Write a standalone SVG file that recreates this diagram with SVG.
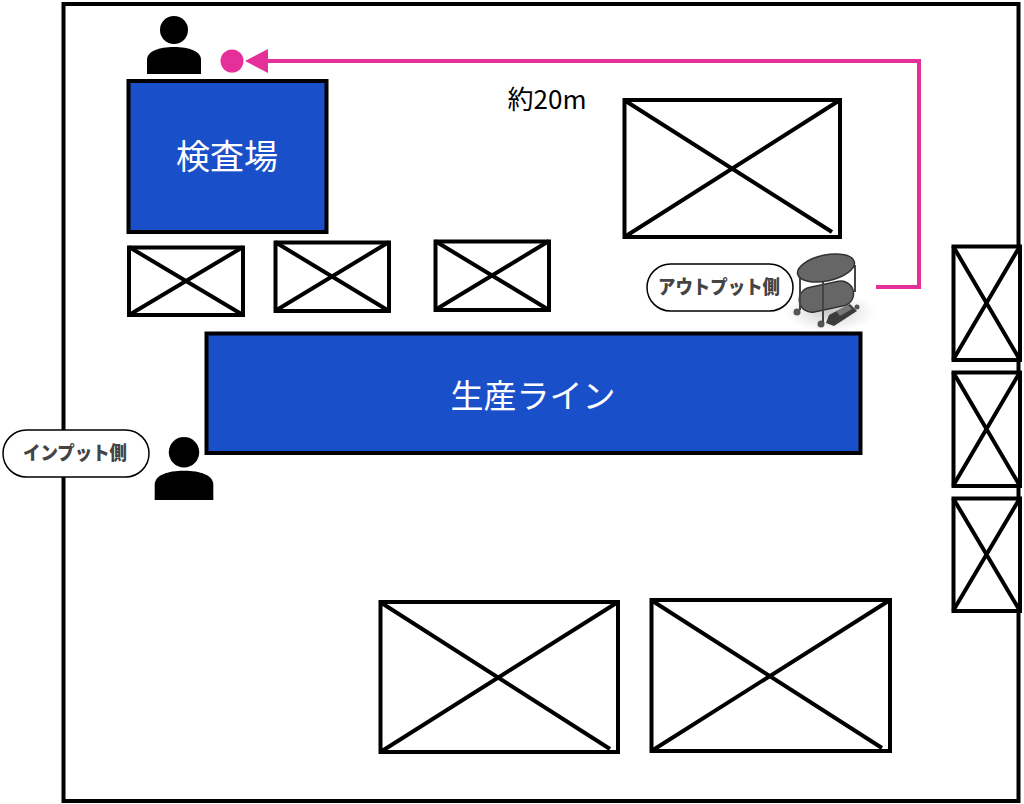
<svg xmlns="http://www.w3.org/2000/svg" width="1024" height="804" viewBox="0 0 1024 804">
<style>
.x rect{fill:#fff;stroke:#000;stroke-width:4}
.x path{fill:none;stroke:#000;stroke-width:4}
.b rect{fill:#1a4fca;stroke:#000;stroke-width:4}
.b text{fill:#fff;text-anchor:middle;font-family:"Noto Sans CJK JP","Noto Sans",sans-serif}
.p text{fill:#444;font-weight:900;font-size:19px;text-anchor:middle;font-family:"Noto Sans CJK JP",sans-serif}
.p rect{fill:#fff;stroke:#000;stroke-width:1.500}
.c{fill:#666;stroke:#333;stroke-width:1.500}
.l{fill:none;stroke:#444;stroke-width:2}
</style>
<defs>
<radialGradient id="sh"><stop offset="0" stop-color="#999" stop-opacity=".55"/><stop offset="1" stop-color="#bbb" stop-opacity="0"/></radialGradient>
<symbol id="person" viewBox="0 0 54 58" overflow="visible"><circle cx="27" cy="14" r="14"/><path d="M0 58V44C0 35 12 31 27 31S54 35 54 44V58Z"/></symbol>
</defs>
<rect id="floor" x="63.500" y="4" width="955" height="797" fill="#fff" stroke="#000" stroke-width="4"/>
<g id="box1" class="x"><rect x="624.500" y="100" width="215.500" height="137"/><path d="M624 100L832 232M626 236L840 100"/></g>
<g id="box2" class="x"><rect x="129" y="247.500" width="114" height="67.500"/><path d="M129 247L243 315M129 315L243 247"/></g>
<g id="box3" class="x"><rect x="275.500" y="242.500" width="113.500" height="68.500"/><path d="M275 242L389 311M275 311L389 242"/></g>
<g id="box4" class="x"><rect x="435.500" y="241.500" width="113.500" height="68.500"/><path d="M435 241L549 310M435 310L549 241"/></g>
<g id="box5" class="x"><rect x="953.500" y="246.500" width="66.500" height="113.500"/><path d="M953 246L1020 360M953 360L1020 246"/></g>
<g id="box6" class="x"><rect x="953.500" y="372.500" width="66.500" height="113.500"/><path d="M953 372L1020 486M953 486L1020 372"/></g>
<g id="box7" class="x"><rect x="953.500" y="498.500" width="66.500" height="112.500"/><path d="M953 498L1020 611M953 611L1020 498"/></g>
<g id="box8" class="x"><rect x="380.500" y="602" width="237.500" height="150"/><path d="M380 602L610 749M382 751L618 602"/></g>
<g id="box9" class="x"><rect x="651.500" y="600" width="238.500" height="151"/><path d="M651 600L882 748M653 750L890 600"/></g>
<g id="inspection" class="b"><rect x="128.500" y="81" width="198" height="151"/><text x="227" y="169" font-size="34">検査場</text></g>
<g id="line" class="b"><rect x="206.500" y="333.500" width="654" height="119.500"/><text x="533" y="408" font-size="33">生産ライン</text></g>
<g id="connectors"><path d="M876 287H919V61H266" fill="none" stroke="#e5309a" stroke-width="4"/><path d="M245 61L268 49V73Z" fill="#e5309a"/></g>
<circle id="dot" cx="232" cy="61" r="11.500" fill="#e5309a"/>
<use id="person1" href="#person" x="147" y="16" width="54" height="58"/>
<use id="person2" href="#person" x="154" y="437" width="60" height="63"/>
<text id="distance" x="547" y="109" font-size="26" text-anchor="middle" font-family="'Noto Sans CJK JP',sans-serif">約20m</text>
<g id="output" class="p"><rect x="647" y="264" width="146" height="47" rx="23.500"/><text x="719" y="294" textLength="122" lengthAdjust="spacingAndGlyphs">アウトプット側</text></g>
<g id="input" class="p"><rect x="3" y="430" width="146" height="47" rx="23.500"/><text x="75" y="460" textLength="104" lengthAdjust="spacingAndGlyphs">インプット側</text></g>
<g id="robot">
<ellipse cx="830" cy="312" rx="46" ry="20" fill="url(#sh)"/>
<path class="l" d="M855 265V292"/>
<rect class="c" x="799" y="284" width="55" height="25" rx="12.500" ry="12.500" transform="rotate(-12 827 297)"/>
<path d="M829 315L850 304L857 311L834 326L826 323Z" fill="#3c3c3c"/>
<path d="M836 311L848 305L852 309L840 316Z" fill="#777"/>
<circle cx="797" cy="312" r="3.500" fill="#555"/><circle cx="821" cy="324" r="3.500" fill="#555"/><circle cx="857" cy="307" r="2.500" fill="#555"/>
<path class="l" d="M800 273V310M823 282V322"/>
<ellipse class="c" cx="826" cy="268" rx="29" ry="13" transform="rotate(-12 826 268)"/>
</g>
</svg>
